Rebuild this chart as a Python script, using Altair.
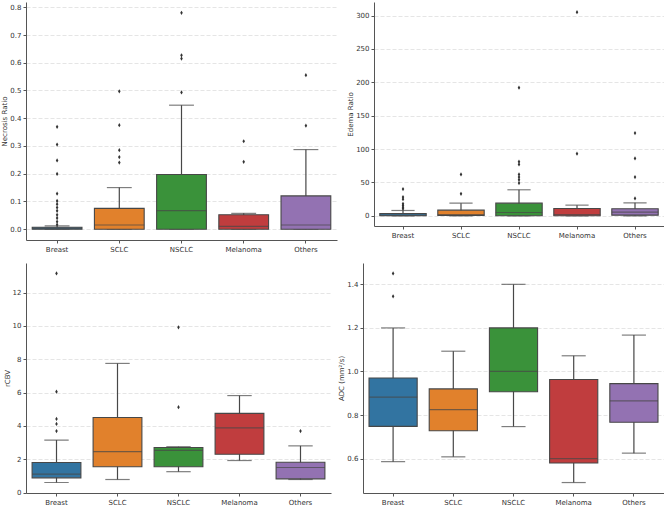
import altair as alt
import pandas as pd

# Tumour groups shown along every x axis
groups = ["Breast", "SCLC", "NSCLC", "Melanoma", "Others"]
box_colors = ["#3274a1", "#e1812c", "#3a923a", "#c03d3e", "#9372b2"]

# Necrosis ratio: box statistics and outliers per group
nec_q1 = [0.0, 0.0, 0.0, 0.0, 0.0]
nec_med = [0.003, 0.015, 0.067, 0.010, 0.015]
nec_q3 = [0.007, 0.075, 0.197, 0.052, 0.120]
nec_lo = [0.0, 0.0, 0.0, 0.0, 0.0]
nec_hi = [0.012, 0.150, 0.447, 0.057, 0.287]
nec_out = [
    [0.369, 0.305, 0.248, 0.199, 0.128, 0.102, 0.090, 0.078, 0.066, 0.052, 0.040, 0.027, 0.016],
    [0.497, 0.375, 0.285, 0.260, 0.240],
    [0.780, 0.627, 0.615, 0.493],
    [0.317, 0.243],
    [0.555, 0.373],
]
nec_ticks = [0.0, 0.1, 0.2, 0.3, 0.4, 0.5, 0.6, 0.7, 0.8]

# Edema ratio
ede_q1 = [0.0, 0.5, 0.0, 0.0, 1.0]
ede_med = [1.0, 2.0, 5.0, 2.0, 5.5]
ede_q3 = [3.5, 8.5, 19.0, 11.0, 10.5]
ede_lo = [0.0, 0.0, 0.0, 0.0, 0.0]
ede_hi = [8.0, 19.0, 39.0, 16.0, 19.5]
ede_out = [
    [40, 28, 25, 18, 15.5, 13, 10.5],
    [62, 33],
    [192, 81, 77, 62, 58, 54, 49],
    [305, 93],
    [124, 86, 58, 26],
]
ede_ticks = [0, 50, 100, 150, 200, 250, 300]

# rCBV
cbv_q1 = [0.88, 1.55, 1.55, 2.30, 0.82]
cbv_med = [1.10, 2.45, 2.53, 3.88, 1.50]
cbv_q3 = [1.80, 4.50, 2.70, 4.75, 1.82]
cbv_lo = [0.60, 0.78, 1.25, 1.92, 0.78]
cbv_hi = [3.15, 7.75, 2.75, 5.82, 2.80]
cbv_out = [
    [13.15, 6.05, 4.42, 4.12, 3.69],
    [],
    [9.92, 5.12],
    [],
    [3.69],
]
cbv_ticks = [0, 2, 4, 6, 8, 10, 12]

# ADC
adc_q1 = [0.748, 0.728, 0.907, 0.580, 0.767]
adc_med = [0.882, 0.825, 1.000, 0.600, 0.865]
adc_q3 = [0.970, 0.920, 1.200, 0.963, 0.944]
adc_lo = [0.586, 0.608, 0.747, 0.490, 0.625]
adc_hi = [1.200, 1.093, 1.400, 1.072, 1.167]
adc_out = [[1.450, 1.345], [], [], [], []]
adc_ticks = [0.6, 0.8, 1.0, 1.2, 1.4]

LINE = "#474747"
TEXT = "#333333"
DIAMOND = "M0,-1L0.6,0L0,1L-0.6,0Z"


def panel(title, q1, med, q3, lo, hi, out, domain, ticks, fmt, w, h):
    stats = pd.DataFrame({"group": groups, "q1": q1, "med": med, "q3": q3,
                          "lo": lo, "hi": hi})
    pts = pd.DataFrame([(g, v) for g, vals in zip(groups, out) for v in vals],
                       columns=["group", "value"])
    step = w / len(groups)
    box_w = 0.8 * step
    cap_w = 0.5 * box_w

    x = alt.X("group:N", sort=groups,
              scale=alt.Scale(paddingInner=0.2, paddingOuter=0.1),
              axis=alt.Axis(title=None, labelAngle=0, bandPosition=0.5,
                            domainColor="#555555", tickColor="#555555",
                            tickSize=3, labelPadding=2, labelFontSize=7,
                            labelColor=TEXT, grid=False, labelOverlap=False))
    yscale = alt.Scale(domain=domain, nice=False, zero=False)
    yaxis = alt.Axis(title=title, values=ticks, format=fmt, grid=True,
                     gridColor="#dedede", gridDash=[4, 2], gridWidth=0.8,
                     domainColor="#555555", tickColor="#555555",
                     tickSize=3, labelPadding=2, labelFontSize=7,
                     labelColor=TEXT, titleFontSize=7,
                     titleFontWeight="normal", titleColor=TEXT,
                     titlePadding=2, labelOverlap=False,
                     labelBound=False, labelFlush=False)

    def Y(field):
        return alt.Y(field, scale=yscale, axis=yaxis)

    base = alt.Chart(stats)
    whisker = base.mark_rule(color=LINE, strokeWidth=1.2).encode(
        x=x, y=Y("lo:Q"), y2="hi:Q")
    cap_lo = base.mark_tick(color=LINE, size=cap_w, thickness=1.2).encode(
        x=x, y=Y("lo:Q"))
    cap_hi = base.mark_tick(color=LINE, size=cap_w, thickness=1.2).encode(
        x=x, y=Y("hi:Q"))
    box = base.mark_bar(stroke=LINE, strokeWidth=1.1).encode(
        x=x, y=Y("q1:Q"), y2="q3:Q",
        color=alt.Color("group:N", scale=alt.Scale(domain=groups, range=box_colors),
                        legend=None))
    median = base.mark_tick(color=LINE, size=box_w, thickness=1.2).encode(
        x=x, y=Y("med:Q"))
    fliers = alt.Chart(pts).mark_point(shape=DIAMOND, filled=True, size=18,
                                       color="#333333", opacity=1).encode(
        x=x, y=Y("value:Q"))
    return alt.layer(whisker, cap_lo, cap_hi, box, median, fliers).properties(
        width=w, height=h)


top_left = panel("Necrosis Ratio", nec_q1, nec_med, nec_q3, nec_lo, nec_hi, nec_out,
                 [-0.039, 0.819], nec_ticks, ".1f", 311, 238)
top_right = panel("Edema Ratio", ede_q1, ede_med, ede_q3, ede_lo, ede_hi, ede_out,
                  [-15.25, 320.25], ede_ticks, "d", 290, 224)
bottom_left = panel("rCBV", cbv_q1, cbv_med, cbv_q3, cbv_lo, cbv_hi, cbv_out,
                    [-0.03, 13.78], cbv_ticks, "d", 305, 230)
bottom_right = panel("ADC (mm²/s)", adc_q1, adc_med, adc_q3, adc_lo, adc_hi, adc_out,
                     [0.442, 1.498], adc_ticks, ".1f", 301, 230)

chart = alt.vconcat(
    alt.hconcat(top_left, top_right, spacing=9),
    alt.hconcat(bottom_left, bottom_right, spacing=6),
    spacing=11,
).properties(
    padding={"left": 0, "top": 2, "right": 0, "bottom": 0},
    background="white",
).configure(font="DejaVu Sans").configure_view(strokeWidth=0, stroke="transparent")

chart.save("out.html", embed_options={"renderer": "svg", "actions": False})
